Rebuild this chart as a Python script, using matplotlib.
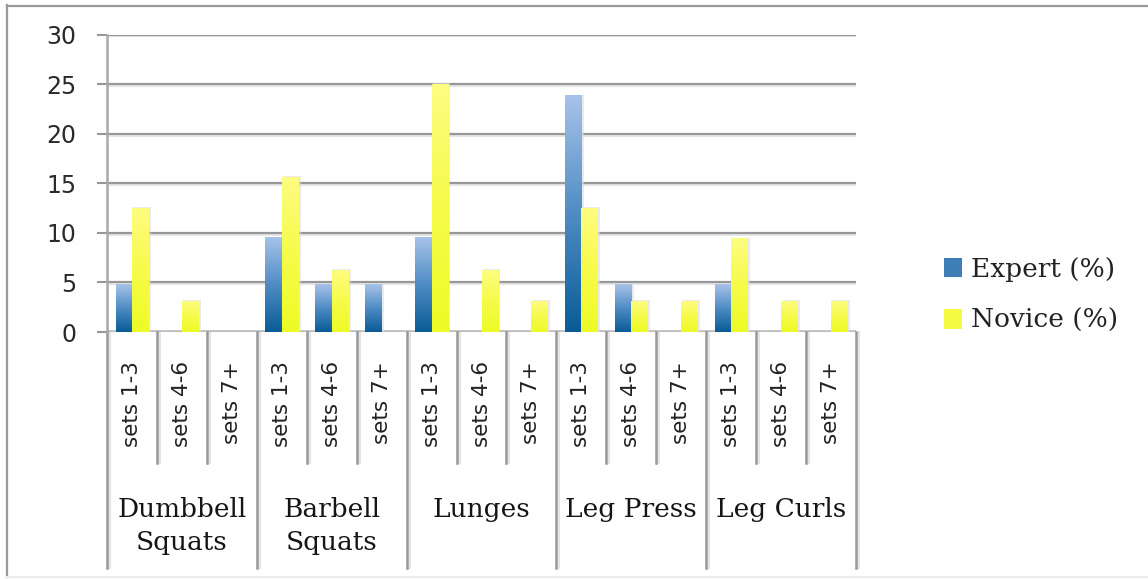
import numpy as np
import matplotlib.pyplot as plt
import matplotlib.transforms as mtransforms
from matplotlib.colors import LinearSegmentedColormap
from matplotlib.lines import Line2D
from matplotlib.patches import Rectangle

# data: share of each group (%) per exercise and set range
exercicios = ['Dumbbell\nSquats', 'Barbell\nSquats', 'Lunges', 'Leg Press', 'Leg Curls']
series = ['sets 1-3', 'sets 4-6', 'sets 7+']
expert = [4.8, 0, 0, 9.5, 4.8, 4.8, 9.5, 0, 0, 23.8, 4.8, 0, 4.8, 0, 0]
novice = [12.5, 3.1, 0, 15.6, 6.25, 0, 25, 6.25, 3.1, 12.5, 3.1, 3.1, 9.4, 3.1, 3.1]
nomes = ['Expert (%)', 'Novice (%)']

rotulos = series * len(exercicios)
x = np.arange(len(rotulos))

cmap_azul = LinearSegmentedColormap.from_list('azul', ['#0a5c96', '#4f8cc4', '#a6c2e8'])
cmap_amarelo = LinearSegmentedColormap.from_list('amarelo', ['#edfb26', '#f6fb4a', '#fdfd80'])
cinza = '#979797'

fig = plt.figure(figsize=(11.48, 5.79), dpi=100)
ax = fig.add_axes([107 / 1148, 1 - 332 / 579, 749 / 1148, 297.5 / 579])

larg = 0.327
grad = np.linspace(0, 1, 64).reshape(-1, 1)
barras = []
for valores, desloc, cmap, cor, nome in [(expert, -larg / 2, cmap_azul, '#3f7db6', nomes[0]),
                                          (novice, larg / 2, cmap_amarelo, '#f4fa42', nomes[1])]:
    b = ax.bar(x + desloc, valores, width=larg, color=cor, label=nome, zorder=3)
    barras.append(b)
    for ret, v in zip(b.patches, valores):
        if v <= 0:
            continue
        x0 = ret.get_x()
        # sombra suave atras da barra
        ax.add_patch(Rectangle((x0 + 0.03, 0), larg + 0.02, v + 0.12, color='#dcdcdc',
                               alpha=0.6, lw=0, zorder=2.5))
        ax.imshow(grad, extent=[x0, x0 + larg, 0, v], origin='lower', aspect='auto',
                  cmap=cmap, interpolation='bicubic', zorder=3.5)

ax.set_xlim(-0.5, len(rotulos) - 0.5)
ax.set_ylim(0, 30)

# grade horizontal com sombra
for y in range(5, 31, 5):
    ax.axhline(y - 0.2, color='#e6e6e6', lw=1.5, zorder=1)
    ax.axhline(y, color=cinza, lw=1.6, zorder=1.2)
ax.axhline(0, color='#bdbdbd', lw=2.6, zorder=2)

for lado in ['top', 'right', 'bottom']:
    ax.spines[lado].set_visible(False)
ax.spines['left'].set_color('#a9a9a9')
ax.spines['left'].set_linewidth(1.8)

ax.set_yticks(range(0, 31, 5))
ax.tick_params(axis='y', length=7.2, width=1.5, color=cinza, pad=15,
               labelsize=17, labelcolor='#2a2a2a')
for t in ax.get_yticklabels():
    t.set_family('DejaVu Sans')

ax.set_xticks(x, rotulos, rotation=90, fontsize=15.5, color='#222222', family='DejaVu Sans')
ax.tick_params(axis='x', length=0, pad=21)

# separadores do eixo x (curtos entre series, longos entre exercicios)
trans = mtransforms.blended_transform_factory(ax.transData, ax.transAxes)
for k in range(len(rotulos) + 1):
    fundo = -0.793 if k % 3 == 0 else -0.44
    ax.plot([k - 0.5 + 0.06, k - 0.5 + 0.06], [0, fundo], transform=trans, color='#e4e4e4',
            lw=1.5, clip_on=False, zorder=1)
    ax.plot([k - 0.5, k - 0.5], [0, fundo], transform=trans, color=cinza,
            lw=1.8, clip_on=False, zorder=2)

for i, nome in enumerate(exercicios):
    ax.text(3 * i + 1, -0.553, nome, transform=trans, ha='center', va='top',
            fontsize=19, family='DejaVu Serif', color='#151515', linespacing=1.4)

fig.legend(handles=barras, labels=nomes, loc='center left',
           bbox_to_anchor=(920 / 1148, 1 - 295 / 579), frameon=False,
           prop={'family': 'DejaVu Serif', 'size': 19}, labelcolor='#222222',
           handlelength=0.68, handleheight=0.75, handletextpad=0.35, labelspacing=1.0)

# moldura externa
fig.add_artist(Line2D([7 / 1148, 7 / 1148], [1 - 577 / 579, 1 - 5 / 579],
                      transform=fig.transFigure, color='#9a9a9a', lw=1.6))
fig.add_artist(Line2D([7 / 1148, 1], [1 - 5.5 / 579, 1 - 5.5 / 579],
                      transform=fig.transFigure, color='#9a9a9a', lw=1.6))
fig.add_artist(Line2D([7 / 1148, 1], [1 - 577 / 579, 1 - 577 / 579],
                      transform=fig.transFigure, color='#ececec', lw=1.5))

plt.savefig('out.png', dpi=100)
